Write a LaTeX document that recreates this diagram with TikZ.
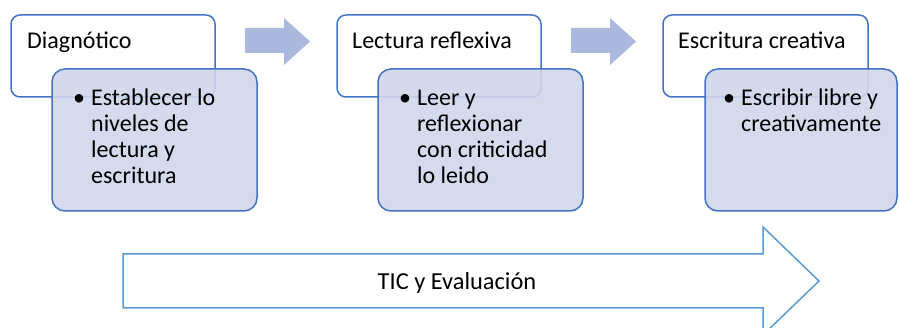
\documentclass[tikz,border=0pt]{standalone}
\usepackage{fontspec}
\setmainfont{Carlito}
\definecolor{boxline}{RGB}{68,114,196}
\definecolor{boxfill}{RGB}{208,214,234}
\definecolor{arrfill}{RGB}{172,185,222}
\definecolor{bigline}{RGB}{91,155,213}
\tikzset{
  titlebox/.style={draw=boxline, line width=1.5pt, fill=white, rounded corners=9pt},
  detailbox/.style={draw=boxline, line width=1.5pt, fill=boxfill, fill opacity=0.9, draw opacity=1, rounded corners=13pt},
  steparrow/.style={fill=arrfill, draw=none},
  bigarrow/.style={draw=bigline, line width=1.5pt, fill=white},
  ttext/.style={anchor=base west, inner sep=0pt, font=\fontsize{24}{25.7}\selectfont},
  btext/.style={anchor=base west, inner sep=0pt, font=\fontsize{24}{25.7}\selectfont}
}
\newcommand{\bulletlines}[1]{\begin{tabular}[t]{@{}l@{\hspace{6pt}}l@{}}\textbullet & #1\end{tabular}}
\begin{document}
\begin{tikzpicture}[x=1pt,y=-1pt]
\useasboundingbox (0,0) rectangle (899,328);
% step 1
\draw[titlebox] (11,15) rectangle (215,97);
\node[ttext] (t1) at (27,49) {Diagnótico};
\draw[detailbox] (52,69) rectangle (257,211);
\node[btext] (d1) at (73,106) {\bulletlines{Establecer lo\\ & niveles de\\ & lectura y\\ & escritura}};
% arrow 1
\fill[steparrow] (245,28) -- (284,28) -- (284,18) -- (310,41.5) -- (284,65) -- (284,53) -- (245,53) -- cycle;
% step 2
\draw[titlebox] (337,15) rectangle (541,97);
\node[ttext] (t2) at (352,49) {Lectura reflexiva};
\draw[detailbox] (378,69) rectangle (583,211);
\node[btext] (d2) at (399,106) {\bulletlines{Leer y\\ & reflexionar\\ & con criticidad\\ & lo leido}};
% arrow 2
\fill[steparrow] (571,28) -- (610,28) -- (610,18) -- (636,41.5) -- (610,65) -- (610,53) -- (571,53) -- cycle;
% step 3
\draw[titlebox] (663,15) rectangle (868,97);
\node[ttext] (t3) at (678,49) {Escritura creativa};
\draw[detailbox] (705,69) rectangle (897,211);
\node[btext] (d3) at (723,106) {\bulletlines{Escribir libre y\\ & creativamente}};
% big arrow
\draw[bigarrow] (123,254) -- (763,254) -- (763,227) -- (819,281) -- (763,335) -- (763,308) -- (123,308) -- cycle;
\node[font=\fontsize{24.4}{26}\selectfont, inner sep=0pt, anchor=base] (tic) at (457,290) {TIC y Evaluación};
\end{tikzpicture}
\end{document}
